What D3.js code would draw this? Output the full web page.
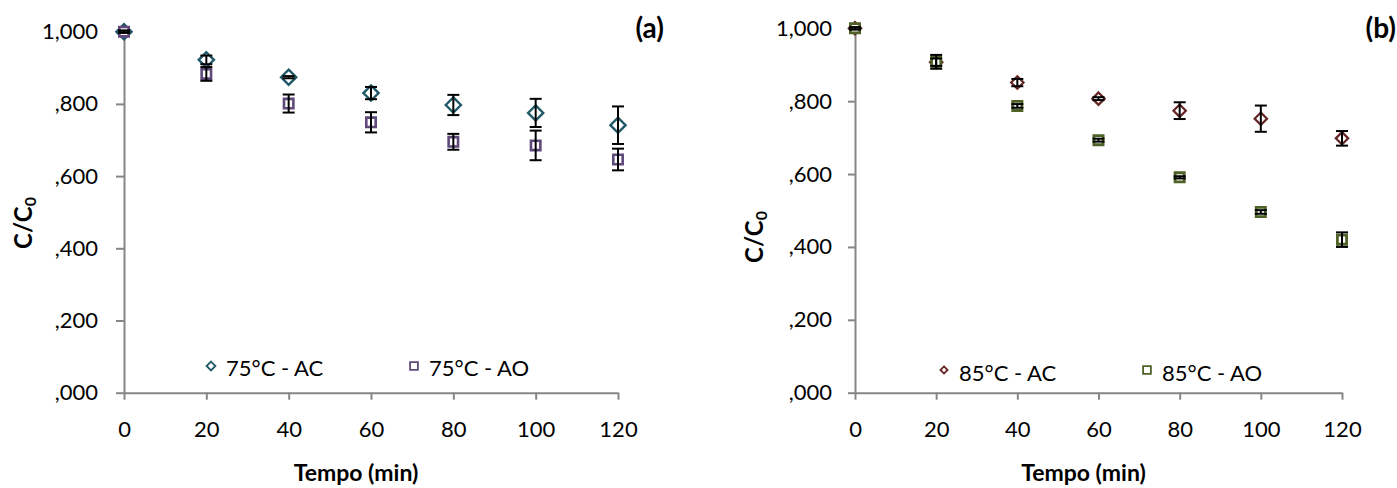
<!DOCTYPE html>
<html>
<head>
<meta charset="utf-8">
<script src="https://cdn.jsdelivr.net/npm/d3@7"></script>
<style>
  body { margin: 0; background: #fff; }
  svg { display: block; font-family: Lato, 'Open Sans', sans-serif; }
  .eixo path, .eixo line { stroke: #868686; stroke-width: 2; }
  .eixo text { fill: #000; font-size: 22px; font-family: Lato, sans-serif; }
</style>
</head>
<body>
<div class="grafico"></div>
<script>
var tempo = [0, 20, 40, 60, 80, 100, 120]
var yTicks = [0, 0.2, 0.4, 0.6, 0.8, 1.0]

// (a) 75 °C
var ac75 = [1.000, 0.922, 0.874, 0.830, 0.797, 0.775, 0.741]
var ac75Erro = [0.003, 0.012, 0.003, 0.017, 0.028, 0.039, 0.052]
var ao75 = [1.000, 0.883, 0.801, 0.749, 0.695, 0.685, 0.646]
var ao75Erro = [0.003, 0.019, 0.025, 0.028, 0.022, 0.041, 0.030]

// (b) 85 °C
var ac85 = [1.000, 0.907, 0.851, 0.807, 0.774, 0.752, 0.698]
var ac85Erro = [0.003, 0.010, 0.010, 0.004, 0.023, 0.036, 0.020]
var ao85 = [1.000, 0.908, 0.787, 0.693, 0.591, 0.496, 0.420]
var ao85Erro = [0.003, 0.019, 0.005, 0.004, 0.003, 0.005, 0.020]

var nomes = ['75°C - AC', '75°C - AO', '85°C - AC', '85°C - AO']

var W = 1397
var H = 488

var svg = d3.select('.grafico').append('svg')
  .attr('width', W)
  .attr('height', H)

var paineis = [
  {
    rotulo: '(a)', rotuloX: 664,
    xRange: [124, 618], yRange: [392.7, 31.7],
    tickPad: 18, tickLen: 8, tituloY: { x: 32, y: 223 },
    legenda: { y: 366, base: 376, x: [211, 414] },
    series: [
      { nome: nomes[0], v: ac75, e: ac75Erro, forma: 'losango', cor: '#215968', r: 7.6, w: 2.4, rl: 4.4 },
      { nome: nomes[1], v: ao75, e: ao75Erro, forma: 'quadrado', cor: '#604A7B', r: 4.7, w: 2.6, rl: 3.9 }
    ]
  },
  {
    rotulo: '(b)', rotuloX: 1396,
    xRange: [855, 1342], yRange: [392.7, 28.3],
    tickPad: 16, tickLen: 7, tituloY: { x: 763, y: 237 },
    legenda: { y: 370, base: 380.5, x: [944, 1147] },
    series: [
      { nome: nomes[2], v: ac85, e: ac85Erro, forma: 'losango', cor: '#632523', r: 6.2, w: 2.2, rl: 3.6 },
      { nome: nomes[3], v: ao85, e: ao85Erro, forma: 'quadrado', cor: '#4F6228', r: 4.6, w: 2.8, rl: 3.9 }
    ]
  }
]

paineis.forEach(desenhaPainel)

function desenhaPainel (p) {
  var x = d3.scaleLinear().domain([0, 120]).range(p.xRange)
  var y = d3.scaleLinear().domain([0, 1]).range(p.yRange)
  var g = svg.append('g')

  // eixos
  g.append('g')
    .attr('class', 'eixo')
    .attr('transform', 'translate(0,' + y(0) + ')')
    .call(d3.axisBottom(x).tickValues(tempo).tickSize(7).tickSizeOuter(0).tickPadding(22))

  g.append('g')
    .attr('class', 'eixo')
    .attr('transform', 'translate(' + x(0) + ',0)')
    .call(d3.axisLeft(y).tickValues(yTicks).tickSize(p.tickLen).tickSizeOuter(0).tickPadding(p.tickPad)
      .tickFormat(formataY))

  // marcadores
  p.series.forEach(function (s) {
    g.selectAll(null)
      .data(s.v)
      .enter().append('path')
      .attr('transform', function (d, i) { return 'translate(' + x(tempo[i]) + ',' + y(d) + ')' })
      .attr('d', forma(s.forma, s.r))
      .attr('fill', '#fff')
      .attr('stroke', s.cor)
      .attr('stroke-width', s.w)
  })

  // barras de erro
  p.series.forEach(function (s) {
    var eb = g.selectAll(null)
      .data(s.v)
      .enter().append('g')
      .attr('stroke', '#000')
      .attr('stroke-width', 2)
    eb.append('line')
      .attr('x1', function (d, i) { return x(tempo[i]) })
      .attr('x2', function (d, i) { return x(tempo[i]) })
      .attr('y1', function (d, i) { return y(d + s.e[i]) })
      .attr('y2', function (d, i) { return y(d - s.e[i]) })
    ;[1, -1].forEach(function (sinal) {
      eb.append('line')
        .attr('x1', function (d, i) { return x(tempo[i]) - 6 })
        .attr('x2', function (d, i) { return x(tempo[i]) + 6 })
        .attr('y1', function (d, i) { return y(d + sinal * s.e[i]) })
        .attr('y2', function (d, i) { return y(d + sinal * s.e[i]) })
    })
  })

  // legenda
  p.series.forEach(function (s, i) {
    var lx = p.legenda.x[i]
    g.append('path')
      .attr('transform', 'translate(' + lx + ',' + p.legenda.y + ')')
      .attr('d', forma(s.forma, s.rl))
      .attr('fill', '#fff')
      .attr('stroke', s.cor)
      .attr('stroke-width', 1.8)
    g.append('text')
      .attr('x', lx + 15)
      .attr('y', p.legenda.base)
      .attr('font-size', 22)
      .text(s.nome)
  })

  // titulos
  var meio = (p.xRange[0] + p.xRange[1]) / 2 - 15
  g.append('text')
    .attr('x', meio)
    .attr('y', 481)
    .attr('text-anchor', 'middle')
    .attr('font-weight', 'bold')
    .attr('font-size', 23)
    .text('Tempo (min)')

  var ty = g.append('text')
    .attr('transform', 'translate(' + p.tituloY.x + ',' + p.tituloY.y + ') rotate(-90)')
    .attr('text-anchor', 'middle')
    .attr('font-weight', 'bold')
    .attr('font-size', 24)
  ty.append('tspan').text('C/C')
  ty.append('tspan').attr('font-size', 16).attr('dy', 4).text('0')

  g.append('text')
    .attr('x', p.rotuloX)
    .attr('y', 38)
    .attr('text-anchor', 'end')
    .attr('font-weight', 'bold')
    .attr('font-size', 28)
    .text(p.rotulo)
}

function formataY (v) {
  var s = d3.format('.3f')(v).replace('.', ',')
  if (s.charAt(0) === '0') s = s.slice(1)
  return s
}

function forma (tipo, r) {
  if (tipo === 'losango') return 'M0,' + (-r) + 'L' + r + ',0L0,' + r + 'L' + (-r) + ',0Z'
  return 'M' + (-r) + ',' + (-r) + 'H' + r + 'V' + r + 'H' + (-r) + 'Z'
}
</script>
</body>
</html>
